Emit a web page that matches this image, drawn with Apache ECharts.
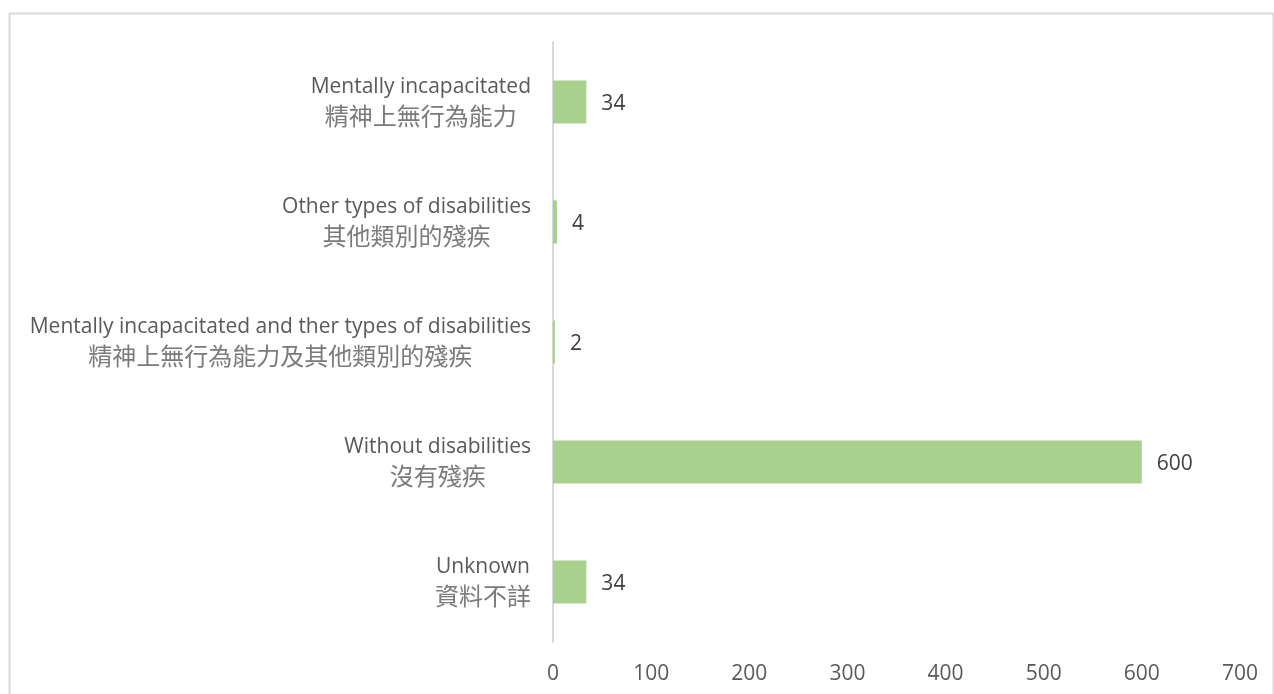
<!DOCTYPE html>
<html>
<head>
<meta charset="utf-8">
<script src="https://cdn.jsdelivr.net/npm/echarts@6/dist/echarts.min.js"></script>
<style>html,body{margin:0;padding:0;background:#fff}#c{width:1274px;height:694px}</style>
</head>
<body>
<div id="c"></div>
<script>
const categoriesEn = ["Unknown", "Without disabilities", "Mentally incapacitated and ther types of disabilities", "Other types of disabilities", "Mentally incapacitated"];
const categoriesZh = ["資料不詳", "沒有殘疾", "精神上無行為能力及其他類別的殘疾", "其他類別的殘疾", "精神上無行為能力"];
const values = [34, 600, 2, 4, 34];
const xTicks = [0, 100, 200, 300, 400, 500, 600, 700];

const categories = categoriesEn.map((e, i) => e + "\n" + categoriesZh[i]);
const chart = echarts.init(document.getElementById('c'));
chart.setOption({
  animation: false,
  backgroundColor: '#fff',
  graphic: [{
    type: 'rect', shape: { x: 9.5, y: 13.5, width: 1264, height: 700 },
    style: { fill: 'none', stroke: '#d9d9d9', lineWidth: 2 }, silent: true
  }],
  grid: { left: 553, right: 34, top: 42, bottom: 52, containLabel: false },
  xAxis: {
    type: 'value', min: xTicks[0], max: xTicks[xTicks.length - 1], interval: 100,
    axisLine: { show: false }, axisTick: { show: false }, splitLine: { show: false },
    axisLabel: { color: '#595959', fontSize: 21, fontFamily: 'Open Sans', margin: 22 }
  },
  yAxis: {
    type: 'category', data: categories,
    axisLine: { show: true, lineStyle: { color: '#d9d9d9', width: 2 } },
    axisTick: { show: false },
    axisLabel: {
      color: '#595959', margin: 22, align: 'right',
      formatter: function (v) {
        const p = v.split("\n");
        return '{a|' + p[0] + '}\n{b|' + p[1] + '}';
      },
      rich: {
        a: { fontSize: 21, fontFamily: 'Open Sans', align: 'center', lineHeight: 28, color: '#595959' },
        b: { fontSize: 24, fontFamily: 'Noto Sans CJK TC', align: 'center', lineHeight: 29, color: '#7a7a7a' }
      }
    }
  },
  series: [{
    type: 'bar', data: values, barWidth: '36%',
    itemStyle: { color: '#a9d18e' },
    label: { show: true, position: 'right', distance: 15, color: '#404040', fontSize: 21, fontFamily: 'Open Sans', offset: [0, 2] }
  }]
});
</script>
</body>
</html>
